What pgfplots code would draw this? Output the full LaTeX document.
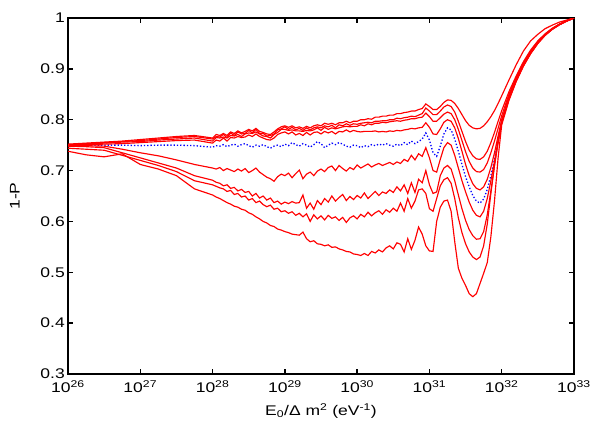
\documentclass[border=0pt]{standalone}
\usepackage{fontspec}
\setmainfont{Liberation Sans}[FakeStretch=1.25]
\usepackage{pgfplots}
\pgfplotsset{compat=1.18}
\usepackage{pgfplotstable}

% x = log10(E0/dm^2), columns: four upper red, blue dotted, four lower red
\pgfplotstableread{
x     u1   u2   u3   u4   b    l1   l2   l3   l4
26.00 .752 .751 .750 .749 .750 .750 .748 .744 .738
26.25 .754 .753 .752 .751 .750 .749 .747 .742 .731
26.50 .756 .755 .754 .752 .750 .748 .745 .740 .727
26.75 .758 .757 .756 .753 .750 .742 .735 .730 .733
27.00 .761 .759 .757 .755 .749 .735 .725 .720 .712
27.25 .764 .762 .760 .757 .750 .729 .715 .710 .703
27.50 .767 .765 .762 .759 .750 .721 .705 .698 .690
27.75 .769 .767 .764 .760 .749 .712 .690 .680 .664
28.00 .764 .762 .758 .754 .746 .705 .681 .672 .652
28.05 .771 .767 .765 .760 .749 .703 .677 .669 .648
28.10 .769 .766 .764 .758 .748 .706 .675 .666 .645
28.15 .773 .771 .766 .764 .751 .700 .670 .664 .641
28.20 .769 .765 .764 .758 .747 .704 .672 .659 .637
28.25 .776 .774 .769 .765 .750 .701 .665 .661 .634
28.30 .773 .769 .768 .764 .752 .698 .667 .653 .630
28.35 .778 .776 .771 .767 .748 .703 .660 .655 .628
28.40 .774 .772 .767 .765 .751 .699 .663 .648 .624
28.45 .777 .773 .772 .766 .753 .704 .657 .650 .622
28.50 .781 .779 .774 .770 .749 .696 .659 .642 .617
28.55 .778 .774 .773 .767 .746 .700 .650 .645 .614
28.60 .783 .781 .776 .772 .750 .705 .655 .637 .609
28.65 .777 .773 .772 .767 .748 .697 .646 .640 .605
28.70 .775 .773 .768 .764 .751 .692 .650 .633 .600
28.75 .772 .768 .767 .761 .747 .687 .642 .629 .597
28.80 .771 .769 .764 .760 .744 .684 .646 .632 .592
28.85 .776 .772 .771 .764 .748 .679 .637 .624 .590
28.90 .782 .780 .775 .771 .750 .688 .640 .626 .585
28.95 .786 .782 .781 .774 .747 .693 .634 .619 .583
29.00 .788 .786 .781 .776 .752 .690 .638 .621 .580
29.05 .785 .781 .779 .772 .749 .695 .635 .616 .578
29.10 .788 .785 .780 .776 .755 .686 .639 .619 .575
29.15 .784 .780 .778 .770 .751 .694 .636 .612 .574
29.20 .786 .783 .778 .773 .748 .701 .637 .616 .573
29.25 .783 .779 .777 .769 .753 .684 .652 .609 .579
29.30 .787 .784 .779 .775 .750 .693 .626 .615 .566
29.35 .784 .780 .778 .770 .746 .697 .636 .600 .560
29.40 .788 .784 .780 .775 .751 .690 .624 .613 .562
29.45 .790 .786 .784 .776 .757 .699 .641 .605 .556
29.50 .788 .784 .779 .772 .753 .703 .633 .611 .555
29.55 .793 .788 .785 .777 .745 .698 .645 .603 .552
29.60 .791 .786 .781 .774 .750 .706 .638 .612 .554
29.65 .793 .789 .784 .777 .754 .709 .650 .606 .549
29.70 .790 .784 .782 .772 .751 .700 .640 .609 .550
29.75 .794 .790 .784 .777 .755 .710 .647 .602 .546
29.80 .794 .788 .786 .776 .752 .704 .653 .608 .544
29.85 .797 .792 .787 .780 .748 .699 .641 .598 .541
29.90 .794 .789 .786 .776 .746 .706 .649 .607 .540
29.95 .797 .792 .787 .779 .750 .702 .643 .611 .536
30.00 .797 .791 .787 .777 .749 .711 .651 .605 .535
30.05 .800 .793 .790 .776 .745 .705 .646 .614 .533
30.10 .800 .794 .788 .777 .749 .709 .656 .609 .537
30.15 .802 .795 .792 .777 .747 .713 .645 .618 .533
30.20 .801 .794 .790 .777 .751 .707 .652 .611 .541
30.25 .805 .797 .793 .778 .749 .711 .659 .617 .538
30.30 .805 .797 .793 .776 .752 .714 .651 .621 .544
30.35 .807 .798 .795 .777 .750 .710 .658 .614 .540
30.40 .807 .798 .794 .776 .753 .713 .655 .623 .548
30.45 .809 .800 .796 .778 .750 .716 .662 .618 .552
30.50 .809 .800 .797 .777 .748 .712 .657 .626 .546
30.55 .812 .803 .798 .779 .752 .717 .668 .620 .558
30.60 .812 .802 .797 .778 .749 .714 .660 .636 .555
30.65 .814 .804 .799 .780 .755 .722 .672 .620 .540
30.70 .815 .805 .800 .781 .751 .718 .655 .645 .566
30.75 .817 .807 .802 .783 .758 .730 .676 .626 .545
30.80 .817 .806 .802 .782 .753 .721 .657 .640 .563
30.85 .820 .809 .804 .784 .757 .733 .683 .662 .589
30.90 .822 .812 .805 .785 .762 .728 .676 .664 .575
30.95 .831 .823 .813 .794 .774 .745 .700 .655 .552
31.00 .826 .817 .806 .785 .760 .725 .672 .625 .542
31.05 .820 .810 .797 .772 .735 .700 .655 .620 .541
31.10 .820 .810 .797 .771 .728 .697 .658 .645 .600
31.15 .826 .817 .804 .782 .748 .722 .690 .670 .628
31.20 .834 .825 .811 .795 .772 .745 .705 .682 .640
31.25 .839 .829 .815 .800 .784 .755 .710 .686 .642
31.30 .838 .826 .812 .797 .780 .750 .703 .675 .620
31.35 .832 .815 .800 .784 .762 .730 .680 .645 .560
31.40 .822 .797 .781 .763 .738 .705 .652 .607 .508
31.45 .810 .777 .759 .738 .712 .680 .625 .578 .488
31.50 .798 .757 .737 .712 .688 .658 .602 .556 .474
31.55 .789 .740 .718 .690 .668 .638 .584 .540 .458
31.60 .784 .729 .705 .674 .651 .622 .572 .530 .452
31.65 .782 .723 .698 .665 .640 .612 .565 .525 .458
31.70 .783 .722 .697 .662 .636 .609 .566 .530 .478
31.75 .788 .727 .702 .668 .644 .620 .580 .552 .498
31.80 .796 .738 .715 .683 .663 .645 .613 .595 .519
31.85 .806 .755 .735 .706 .690 .680 .660 .655 .570
31.90 .818 .775 .758 .735 .722 .718 .710 .710 .640
31.95 .832 .797 .783 .768 .760 .758 .757 .755 .725
32.00 .847 .818 .808 .800 .797 .796 .795 .793 .790
32.10 .878 .855 .850 .846 .843 .842 .841 .840 .838
32.20 .908 .886 .883 .881 .879 .878 .877 .876 .875
32.30 .935 .914 .912 .910 .909 .908 .907 .906 .905
32.40 .955 .937 .935 .934 .933 .932 .931 .930 .930
32.50 .968 .955 .954 .953 .952 .952 .951 .950 .950
32.60 .979 .969 .968 .967 .967 .967 .966 .966 .966
32.70 .986 .980 .979 .979 .978 .978 .978 .978 .978
32.80 .992 .988 .988 .988 .987 .987 .987 .987 .987
32.90 .996 .995 .995 .995 .994 .994 .994 .994 .994
33.00 1.00 1.00 1.00 1.00 1.00 1.00 1.00 1.00 1.00
}\curves

\begin{document}
\begin{tikzpicture}[font=\fontsize{14}{16.5}\selectfont]
\useasboundingbox (-68pt,-46pt) rectangle (531pt,374pt);
\begin{axis}[
  scale only axis, width=506pt, height=356pt,
  xmin=26, xmax=33, ymin=0.3, ymax=1,
  xtick={26,27,28,29,30,31,32,33},
  xticklabels={10\textsuperscript{26},10\textsuperscript{27},10\textsuperscript{28},10\textsuperscript{29},
    10\textsuperscript{30},10\textsuperscript{31},10\textsuperscript{32},10\textsuperscript{33}},
  ytick={0.3,0.4,0.5,0.6,0.7,0.8,0.9,1},
  /pgf/number format/assume math mode=true,
  yticklabel style={xshift=-1pt, inner xsep=2pt, inner ysep=0pt},
  xticklabel style={yshift=-6pt, inner sep=0.5pt},
  tick align=inside, major tick length=5pt,
  axis line style={line width=1.6pt},
  every tick/.style={black,line width=1.3pt},
  xlabel={E\textsubscript{0}/Δ m\textsuperscript{2} (eV\textsuperscript{-1})},
  ylabel={1-P},
  xlabel style={at={(axis description cs:0.5,-0.104)},anchor=center},
  ylabel style={at={(axis description cs:-0.105,0.5)},anchor=center},
  every axis plot/.append style={line width=1.15pt},
]
\addplot[blue, line width=1.3pt, dash pattern=on 1.3pt off 2pt] table[x=x,y=b] {\curves};
\addplot[red] table[x=x,y=u1] {\curves};
\addplot[red] table[x=x,y=u2] {\curves};
\addplot[red] table[x=x,y=u3] {\curves};
\addplot[red] table[x=x,y=u4] {\curves};
\addplot[red] table[x=x,y=l1] {\curves};
\addplot[red] table[x=x,y=l2] {\curves};
\addplot[red] table[x=x,y=l3] {\curves};
\addplot[red] table[x=x,y=l4] {\curves};
\end{axis}
\end{tikzpicture}
\end{document}
